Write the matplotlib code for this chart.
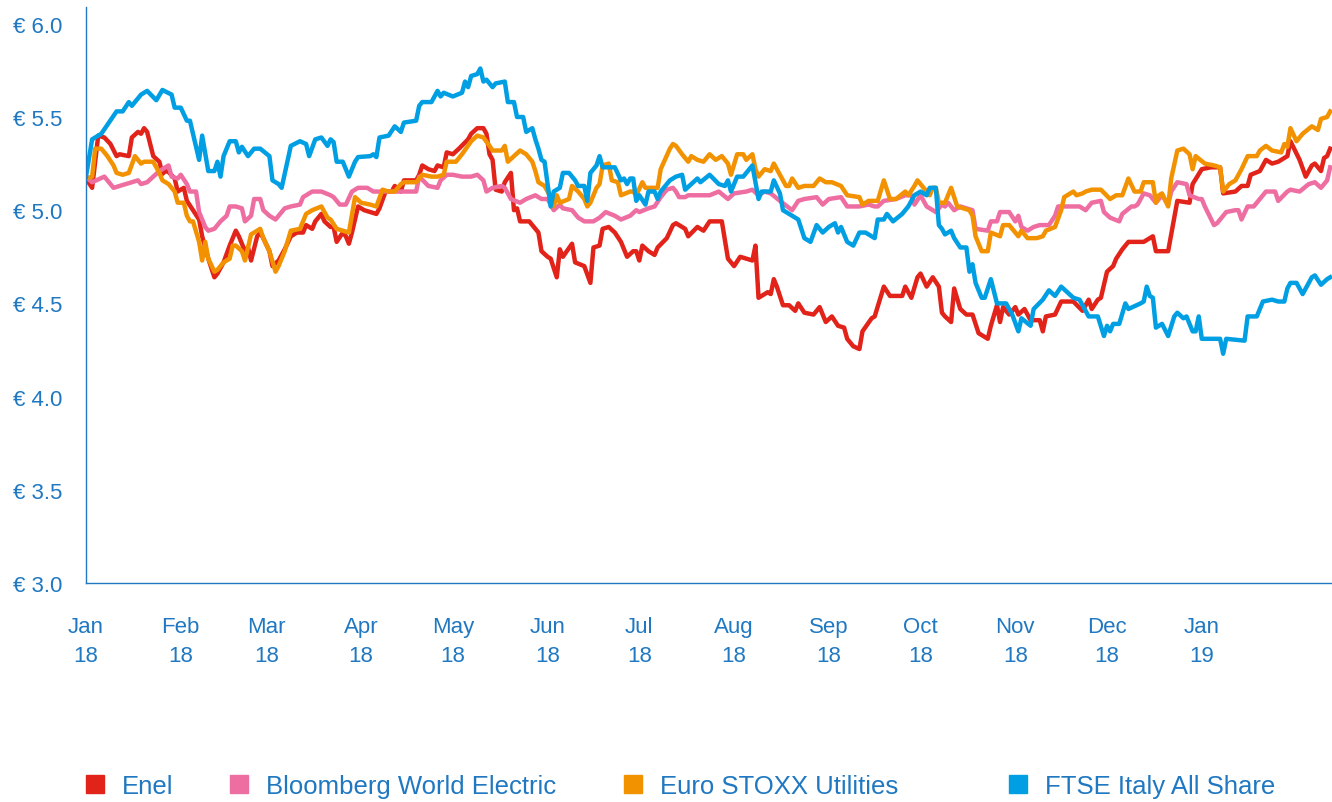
import pandas as pd
import numpy as np
import matplotlib
matplotlib.use('Agg')
import matplotlib.pyplot as plt
import matplotlib.dates as mdates
from matplotlib.lines import Line2D
from matplotlib.ticker import FuncFormatter

plt.rcParams['font.family'] = ['Liberation Sans', 'DejaVu Sans']

# days counted from 1 Jan 2018, values in euro (rebased to Enel)
start = pd.Timestamp('2018-01-01')

enel_days = [0, 2, 4, 6, 8, 10, 11, 14, 15, 17, 18, 19, 20, 22, 24, 25, 26, 27, 29, 30, 32, 33, 35, 37, 38, 40, 42, 43, 45, 47,
             49, 50, 52, 53, 54, 56, 57, 58, 60, 61, 63, 65, 67, 69, 71, 72, 74, 75, 77, 78, 80, 81, 82, 84, 85, 86, 87, 89, 91, 93,
             95, 96, 98, 100, 101, 103, 104, 108, 109, 110, 112, 114, 115, 117, 118, 120, 122, 125, 126, 128, 130, 131, 132, 133, 134, 136, 137, 139, 140, 141,
             142, 145, 147, 148, 149, 151, 152, 154, 155, 156, 159, 160, 163, 165, 166, 168, 169, 171, 173, 175, 177, 179, 180, 181, 182, 184, 186, 187, 190, 192,
             193, 196, 197, 200, 202, 204, 208, 210, 212, 214, 216, 218, 219, 220, 223, 224, 225, 226, 228, 230, 232, 233, 235, 238, 240, 242, 244, 246, 248, 249,
             251, 253, 254, 257, 258, 261, 263, 267, 268, 270, 272, 273, 275, 277, 279, 280, 281, 283, 284, 286, 288, 290, 292, 295, 296, 298, 299, 300, 302, 304,
             305, 307, 309, 312, 313, 314, 317, 319, 323, 326, 328, 329, 331, 332, 334, 336, 337, 339, 341, 344, 346, 349, 350, 354, 357, 361, 362, 365, 368, 371,
             372, 376, 378, 380, 381, 384, 386, 388, 390, 393, 394, 397, 399, 401, 402, 404, 405, 406, 407]
enel_vals = [5.17, 5.12, 5.40, 5.39, 5.355, 5.29, 5.30, 5.29, 5.39, 5.42, 5.41, 5.44, 5.42, 5.29, 5.26, 5.195, 5.21, 5.205, 5.17, 5.10, 5.12, 5.05, 5.00, 4.95, 4.86, 4.74, 4.64, 4.66, 4.72, 4.81,
             4.89, 4.86, 4.78, 4.80, 4.73, 4.86, 4.88, 4.85, 4.78, 4.70, 4.73, 4.79, 4.86, 4.88, 4.88, 4.92, 4.90, 4.94, 4.98, 4.94, 4.91, 4.91, 4.83, 4.88, 4.86, 4.82, 4.88, 5.02, 5.00, 4.99,
             4.98, 5.01, 5.10, 5.10, 5.13, 5.10, 5.16, 5.16, 5.19, 5.24, 5.22, 5.21, 5.24, 5.23, 5.31, 5.30, 5.33, 5.38, 5.41, 5.44, 5.44, 5.41, 5.30, 5.27, 5.11, 5.10, 5.15, 5.20, 5.00, 5.01,
             4.94, 4.94, 4.90, 4.88, 4.78, 4.75, 4.74, 4.64, 4.79, 4.75, 4.82, 4.72, 4.70, 4.61, 4.80, 4.81, 4.90, 4.91, 4.88, 4.83, 4.75, 4.78, 4.78, 4.73, 4.81, 4.78, 4.76, 4.80, 4.85, 4.92,
             4.93, 4.90, 4.86, 4.91, 4.89, 4.94, 4.94, 4.74, 4.70, 4.75, 4.74, 4.73, 4.81, 4.53, 4.56, 4.55, 4.63, 4.59, 4.49, 4.49, 4.46, 4.50, 4.45, 4.44, 4.48, 4.40, 4.43, 4.38, 4.37, 4.31,
             4.27, 4.255, 4.35, 4.42, 4.43, 4.59, 4.54, 4.54, 4.59, 4.53, 4.64, 4.66, 4.59, 4.64, 4.59, 4.45, 4.43, 4.40, 4.58, 4.47, 4.44, 4.44, 4.34, 4.31, 4.38, 4.49, 4.40, 4.48, 4.44, 4.48,
             4.44, 4.47, 4.41, 4.41, 4.35, 4.43, 4.44, 4.51, 4.51, 4.46, 4.52, 4.47, 4.52, 4.53, 4.67, 4.70, 4.74, 4.79, 4.83, 4.83, 4.83, 4.86, 4.78, 4.78, 5.05, 5.04, 5.14, 5.22, 5.23, 5.23,
             5.09, 5.10, 5.13, 5.13, 5.19, 5.21, 5.27, 5.25, 5.26, 5.29, 5.37, 5.27, 5.18, 5.24, 5.25, 5.21, 5.28, 5.29, 5.33]

bwe_days = [0, 2, 6, 9, 11, 15, 17, 18, 20, 22, 24, 27, 28, 30, 31, 33, 34, 36, 37, 39, 40, 42, 44, 46, 47, 49, 51, 52, 54, 55,
            57, 58, 60, 62, 64, 65, 67, 70, 71, 74, 77, 80, 81, 83, 85, 87, 89, 92, 94, 99, 105, 108, 109, 112, 115, 116, 118, 120, 123, 126,
            128, 130, 131, 133, 136, 137, 139, 142, 144, 147, 149, 151, 153, 155, 156, 159, 161, 163, 166, 168, 170, 173, 175, 178, 180, 181, 184, 186, 188, 190,
            192, 193, 194, 196, 197, 201, 204, 207, 210, 212, 216, 218, 220, 222, 224, 227, 231, 233, 235, 239, 241, 243, 247, 249, 253, 256, 258, 259, 261, 265,
            268, 270, 271, 273, 275, 277, 278, 280, 281, 282, 284, 286, 290, 291, 295, 296, 298, 299, 302, 304, 305, 306, 308, 310, 312, 315, 317, 318, 321, 325,
            327, 329, 332, 333, 335, 338, 339, 342, 343, 344, 346, 348, 350, 352, 354, 355, 357, 360, 361, 364, 365, 366, 369, 370, 373, 376, 377, 378, 380, 382,
            384, 386, 389, 390, 393, 394, 397, 400, 402, 404, 406, 407]
bwe_vals = [5.18, 5.15, 5.18, 5.12, 5.13, 5.15, 5.16, 5.14, 5.15, 5.18, 5.21, 5.24, 5.18, 5.17, 5.19, 5.14, 5.10, 5.10, 4.99, 4.91, 4.89, 4.90, 4.94, 4.97, 5.02, 5.02, 5.01, 4.94, 4.97, 5.06,
            5.06, 5.00, 4.97, 4.95, 4.99, 5.01, 5.02, 5.03, 5.07, 5.10, 5.10, 5.08, 5.07, 5.03, 5.03, 5.10, 5.12, 5.12, 5.10, 5.10, 5.10, 5.10, 5.18, 5.13, 5.12, 5.16, 5.19, 5.19, 5.18, 5.18,
            5.19, 5.16, 5.10, 5.12, 5.13, 5.12, 5.06, 5.04, 5.06, 5.08, 5.06, 5.06, 5.00, 5.03, 5.01, 5.00, 4.96, 4.94, 4.94, 4.96, 4.99, 4.97, 4.95, 4.97, 5.00, 4.99, 5.01, 5.02, 5.07, 5.11,
            5.12, 5.10, 5.07, 5.07, 5.08, 5.08, 5.08, 5.10, 5.06, 5.09, 5.10, 5.11, 5.08, 5.10, 5.09, 5.05, 5.00, 5.05, 5.06, 5.07, 5.03, 5.06, 5.07, 5.02, 5.02, 5.03, 5.02, 5.02, 5.05, 5.06,
            5.08, 5.08, 5.03, 5.08, 5.02, 5.00, 4.99, 5.03, 5.02, 5.04, 5.00, 5.02, 5.00, 4.90, 4.89, 4.94, 4.94, 4.99, 4.99, 4.94, 4.97, 4.91, 4.89, 4.91, 4.92, 4.92, 4.97, 5.02, 5.02, 5.02,
            5.00, 5.04, 5.05, 4.99, 4.96, 4.94, 4.98, 5.02, 5.02, 5.03, 5.09, 5.08, 5.04, 5.08, 5.03, 5.10, 5.15, 5.14, 5.08, 5.06, 5.06, 5.02, 4.92, 4.93, 4.99, 5.00, 5.00, 4.95, 5.02, 5.02,
            5.06, 5.10, 5.10, 5.05, 5.10, 5.11, 5.10, 5.14, 5.15, 5.12, 5.16, 5.23]

stoxx_days = [0, 2, 3, 5, 7, 9, 10, 12, 14, 16, 18, 19, 22, 24, 25, 27, 29, 30, 32, 33, 34, 35, 37, 38, 39, 40, 42, 43, 45, 47,
              48, 49, 51, 52, 54, 56, 57, 58, 60, 62, 63, 65, 67, 70, 72, 74, 77, 79, 80, 82, 84, 86, 88, 90, 93, 95, 97, 99, 101, 103,
              104, 108, 110, 113, 115, 117, 118, 121, 123, 126, 128, 130, 132, 133, 136, 137, 138, 140, 142, 144, 146, 147, 148, 150, 152, 153, 154, 155, 158, 159,
              161, 163, 164, 165, 167, 168, 169, 171, 172, 174, 175, 178, 179, 180, 182, 183, 187, 188, 191, 192, 193, 195, 197, 198, 200, 202, 204, 206, 208, 210,
              211, 213, 215, 216, 218, 219, 220, 222, 224, 225, 227, 229, 230, 231, 233, 235, 238, 240, 242, 244, 247, 249, 253, 254, 256, 259, 261, 263, 265, 268,
              269, 271, 272, 274, 276, 277, 278, 279, 281, 283, 285, 287, 289, 290, 291, 293, 295, 296, 299, 300, 302, 304, 305, 306, 308, 311, 313, 314, 317, 319,
              320, 322, 323, 324, 326, 327, 329, 332, 335, 337, 339, 341, 343, 345, 346, 349, 350, 351, 352, 354, 355, 357, 359, 361, 362, 363, 366, 369, 371, 372,
              374, 376, 378, 380, 383, 384, 386, 388, 391, 392, 393, 394, 396, 398, 401, 403, 404, 406, 407]
stoxx_vals = [5.17, 5.18, 5.33, 5.33, 5.29, 5.24, 5.20, 5.19, 5.20, 5.29, 5.25, 5.26, 5.26, 5.20, 5.16, 5.14, 5.10, 5.04, 5.04, 4.97, 4.94, 4.94, 4.83, 4.73, 4.83, 4.74, 4.67, 4.68, 4.72, 4.74,
              4.81, 4.81, 4.78, 4.73, 4.87, 4.89, 4.90, 4.85, 4.78, 4.67, 4.70, 4.78, 4.89, 4.90, 4.98, 5.00, 5.02, 4.96, 4.95, 4.90, 4.89, 4.88, 5.07, 5.04, 5.03, 5.02, 5.11, 5.10, 5.10, 5.14,
              5.15, 5.15, 5.19, 5.18, 5.18, 5.19, 5.26, 5.26, 5.30, 5.37, 5.40, 5.39, 5.345, 5.32, 5.32, 5.345, 5.26, 5.29, 5.32, 5.30, 5.26, 5.21, 5.15, 5.13, 5.07, 5.02, 5.08, 5.04, 5.06, 5.13,
              5.10, 5.06, 5.02, 5.04, 5.12, 5.14, 5.24, 5.25, 5.16, 5.15, 5.08, 5.10, 5.10, 5.08, 5.15, 5.12, 5.12, 5.22, 5.33, 5.355, 5.345, 5.30, 5.26, 5.29, 5.27, 5.26, 5.30, 5.27, 5.29, 5.25,
              5.19, 5.30, 5.30, 5.27, 5.30, 5.22, 5.18, 5.22, 5.21, 5.25, 5.19, 5.13, 5.13, 5.17, 5.12, 5.13, 5.13, 5.17, 5.15, 5.15, 5.13, 5.08, 5.07, 5.03, 5.05, 5.05, 5.16, 5.06, 5.06, 5.10,
              5.08, 5.13, 5.16, 5.12, 5.08, 5.12, 5.12, 5.04, 5.04, 5.12, 5.02, 5.01, 5.00, 4.97, 4.86, 4.78, 4.78, 4.88, 4.86, 4.92, 4.92, 4.88, 4.86, 4.89, 4.85, 4.85, 4.86, 4.89, 4.91, 5.00,
              5.07, 5.09, 5.10, 5.08, 5.09, 5.10, 5.11, 5.11, 5.06, 5.08, 5.08, 5.17, 5.10, 5.10, 5.15, 5.15, 5.04, 5.08, 5.09, 5.02, 5.17, 5.32, 5.33, 5.30, 5.22, 5.29, 5.25, 5.24, 5.23, 5.10,
              5.14, 5.16, 5.22, 5.29, 5.29, 5.32, 5.345, 5.32, 5.31, 5.355, 5.34, 5.44, 5.37, 5.41, 5.45, 5.43, 5.49, 5.50, 5.53]

ftse_days = [0, 2, 5, 10, 12, 14, 15, 18, 20, 23, 25, 28, 29, 31, 33, 34, 37, 38, 40, 42, 43, 44, 45, 47, 49, 50, 51, 53, 55, 57,
             60, 61, 63, 64, 67, 70, 72, 73, 75, 77, 79, 80, 81, 82, 84, 86, 88, 89, 93, 94, 95, 96, 99, 101, 103, 104, 108, 109, 110, 113,
             115, 116, 117, 120, 123, 124, 125, 126, 128, 129, 130, 131, 133, 134, 137, 138, 140, 141, 143, 144, 146, 147, 148, 149, 150, 152, 153, 155, 156, 158,
             160, 161, 163, 164, 165, 167, 168, 169, 172, 173, 175, 176, 177, 178, 179, 180, 181, 183, 184, 186, 187, 188, 191, 193, 195, 196, 198, 200, 201, 204,
             207, 209, 210, 211, 213, 215, 218, 220, 221, 224, 225, 227, 228, 230, 233, 235, 237, 239, 241, 243, 245, 246, 247, 249, 251, 253, 255, 258, 259, 261,
             262, 264, 267, 269, 271, 273, 275, 276, 278, 279, 280, 281, 283, 284, 286, 288, 289, 290, 291, 293, 294, 296, 298, 301, 303, 305, 306, 309, 310, 313,
             315, 317, 319, 321, 323, 325, 326, 328, 331, 333, 334, 335, 336, 338, 340, 341, 345, 346, 347, 348, 349, 350, 352, 354, 356, 357, 359, 360, 362, 363,
             364, 365, 371, 372, 373, 379, 380, 383, 385, 388, 390, 392, 393, 394, 396, 398, 401, 402, 404, 406, 407]
ftse_vals = [5.18, 5.38, 5.41, 5.53, 5.53, 5.58, 5.56, 5.62, 5.64, 5.59, 5.645, 5.62, 5.55, 5.55, 5.48, 5.48, 5.27, 5.40, 5.21, 5.21, 5.26, 5.18, 5.29, 5.37, 5.37, 5.31, 5.34, 5.29, 5.33, 5.33,
             5.29, 5.16, 5.14, 5.12, 5.345, 5.37, 5.355, 5.29, 5.38, 5.39, 5.345, 5.38, 5.365, 5.26, 5.26, 5.18, 5.26, 5.285, 5.29, 5.30, 5.285, 5.39, 5.40, 5.45, 5.42, 5.47, 5.48, 5.56, 5.58, 5.58,
             5.64, 5.61, 5.63, 5.61, 5.63, 5.69, 5.66, 5.72, 5.73, 5.76, 5.69, 5.70, 5.66, 5.68, 5.69, 5.58, 5.58, 5.50, 5.50, 5.42, 5.44, 5.38, 5.33, 5.27, 5.26, 5.02, 5.10, 5.12, 5.20, 5.20,
             5.16, 5.13, 5.13, 5.05, 5.20, 5.24, 5.29, 5.23, 5.23, 5.23, 5.16, 5.17, 5.14, 5.17, 5.17, 5.05, 5.08, 5.03, 5.10, 5.10, 5.06, 5.10, 5.16, 5.18, 5.19, 5.11, 5.14, 5.17, 5.15, 5.19,
             5.14, 5.13, 5.16, 5.10, 5.18, 5.18, 5.24, 5.06, 5.10, 5.10, 5.16, 5.09, 5.00, 4.98, 4.95, 4.85, 4.83, 4.92, 4.88, 4.91, 4.93, 4.88, 4.91, 4.83, 4.81, 4.88, 4.88, 4.85, 4.95, 4.95,
             4.98, 4.94, 4.98, 5.02, 5.08, 5.10, 5.08, 5.12, 5.12, 4.92, 4.90, 4.87, 4.89, 4.85, 4.80, 4.80, 4.67, 4.71, 4.61, 4.53, 4.53, 4.63, 4.50, 4.50, 4.44, 4.35, 4.42, 4.38, 4.47, 4.52,
             4.57, 4.54, 4.59, 4.56, 4.53, 4.52, 4.49, 4.43, 4.43, 4.325, 4.38, 4.35, 4.39, 4.39, 4.50, 4.47, 4.50, 4.51, 4.59, 4.54, 4.53, 4.37, 4.39, 4.325, 4.43, 4.45, 4.42, 4.43, 4.35, 4.35,
             4.43, 4.31, 4.31, 4.23, 4.31, 4.30, 4.43, 4.43, 4.51, 4.52, 4.51, 4.51, 4.58, 4.61, 4.61, 4.55, 4.64, 4.65, 4.60, 4.63, 4.64]

series = [
    ('Enel', enel_days, enel_vals, '#e2231a'),
    ('Bloomberg World Electric', bwe_days, bwe_vals, '#ee6ea2'),
    ('Euro STOXX Utilities', stoxx_days, stoxx_vals, '#f39200'),
    ('FTSE Italy All Share', ftse_days, ftse_vals, '#009fe3'),
]
month_ticks = pd.date_range('2018-01-01', '2019-01-01', freq='MS')
y_ticks = [3.0, 3.5, 4.0, 4.5, 5.0, 5.5, 6.0]

axis_blue = '#1f78c1'
W, H = 1332, 803

fig = plt.figure(figsize=(W / 100, H / 100), dpi=100)
ax = fig.add_axes([86 / W, 1 - 584 / H, 1 - 86 / W, (584 - 8) / H])

for name, days, vals, col in series:
    dates = start + pd.to_timedelta(np.array(days), unit='D')
    ax.plot(dates, vals, color=col, lw=3.2, label=name)

ax.set_ylim(3.0, 6.09)
ax.set_xlim(start, start + pd.Timedelta(days=407.6))
ax.set_yticks(y_ticks)
ax.yaxis.set_major_formatter(FuncFormatter(lambda v, p: f'€ {v:.1f}'))
ax.set_xticks(month_ticks)
ax.xaxis.set_major_formatter(mdates.DateFormatter('%b\n%y'))

for s in ['top', 'right']:
    ax.spines[s].set_visible(False)
for s in ['left', 'bottom']:
    ax.spines[s].set_color(axis_blue)
    ax.spines[s].set_linewidth(1.0)

ax.tick_params(axis='y', length=0, pad=17, labelsize=16, labelcolor=axis_blue)
ax.tick_params(axis='x', length=0, pad=24, labelsize=16, labelcolor=axis_blue)
for lbl in ax.get_xticklabels():
    lbl.set_linespacing(1.45)

# legend entries placed one by one along the bottom
legend_x = [86, 230, 624, 1009]
for (name, days, vals, col), lx in zip(series, legend_x):
    h = Line2D([], [], marker='s', color=col, linestyle='none', markersize=13)
    fig.legend([h], [name], loc='center left', bbox_to_anchor=(lx / W, 1 - 787 / H),
               frameon=False, fontsize=18.5, labelcolor=axis_blue, handlelength=0.73,
               handletextpad=0.66, borderpad=0, borderaxespad=0)

fig.savefig('out.png', dpi=100)
